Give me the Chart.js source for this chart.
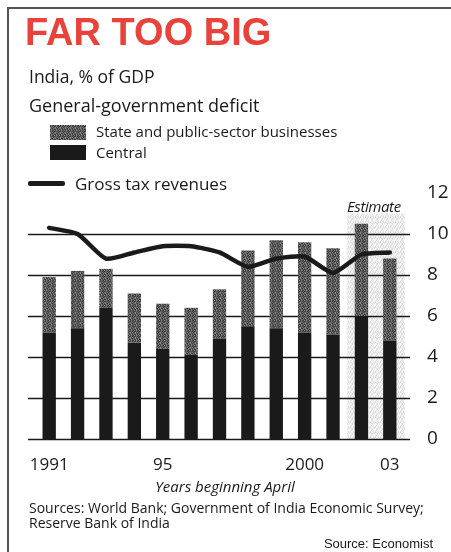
<!DOCTYPE html>
<html>
<head>
<meta charset="utf-8">
<script src="https://cdn.jsdelivr.net/npm/chart.js@4"></script>
<style>
  body { margin: 0; background: #fff; }
  #wrap { position: relative; width: 451px; height: 552px; overflow: hidden; font-family: "Open Sans", Lato, sans-serif; color: #1a1a1a; }
  #frame { position: absolute; left: 7px; top: 7px; width: 460px; height: 560px; border-left: 2px solid #555; border-top: 2px solid #555; }
  .t { position: absolute; white-space: nowrap; }
  #title { left: 25px; top: 11px; font: bold 38px "Liberation Sans", Arial, sans-serif; color: #e8423a; }
  .sw { position: absolute; }
  canvas { position: absolute; left: 0; top: 0; }
</style>
</head>
<body>
<div id="wrap">
  <div id="frame"></div>
  <canvas id="chart" width="451" height="552"></canvas>
  <div class="t" id="title">FAR TOO BIG</div>
  <div class="t" style="left:29px;top:64px;font-size:17.5px;">India, % of GDP</div>
  <div class="t" style="left:29px;top:93px;font-size:18px;">General-government deficit</div>
  <div class="sw" id="swState" style="left:50px;top:125px;width:36px;height:15px;"></div>
  <div class="t" style="left:96px;top:121px;font-size:15px;">State and public-sector businesses</div>
  <div class="sw" style="left:50px;top:145px;width:36px;height:15px;background:#1a1a1a;"></div>
  <div class="t" style="left:96px;top:142px;font-size:15px;">Central</div>
  <div class="sw" style="left:28px;top:181px;width:37px;height:5px;background:#1a1a1a;border-radius:2px;"></div>
  <div class="t" style="left:75px;top:172px;font-size:17px;">Gross tax revenues</div>
  <div class="t" style="left:347px;top:196px;font-size:15px;font-style:italic;letter-spacing:-0.4px;">Estimate</div>
  <div class="t" style="left:0;width:450px;text-align:center;top:476px;font-size:15px;font-style:italic;">Years beginning April</div>
  <div class="t" style="left:29px;top:498px;font-size:14px;">Sources: World Bank; Government of India Economic Survey;</div>
  <div class="t" style="left:29px;top:513px;font-size:14px;">Reserve Bank of India</div>
  <div class="t" style="right:18px;top:536px;font:13px 'Liberation Sans', Arial, sans-serif;">Source: Economist</div>
</div>
<script>
// fiscal years beginning April
var years = [1991, 1992, 1993, 1994, 1995, 1996, 1997, 1998, 1999, 2000, 2001, 2002, 2003];
var tickLabels = {1991: '1991', 1995: '95', 2000: '2000', 2003: '03'};
var central = [5.2, 5.4, 6.4, 4.7, 4.4, 4.1, 4.9, 5.5, 5.4, 5.2, 5.1, 6.0, 4.8];
var stateBiz = [2.7, 2.8, 1.9, 2.4, 2.2, 2.3, 2.4, 3.7, 4.3, 4.4, 4.2, 4.5, 4.0];
var taxRevenues = [10.3, 10.0, 8.8, 9.1, 9.4, 9.4, 9.1, 8.4, 8.8, 8.9, 8.1, 9.0, 9.1];
var yTicks = [0, 2, 4, 6, 8, 10, 12];
var estimateFrom = 2002;

function makePattern(vals, size) {
  var c = document.createElement('canvas');
  c.width = size; c.height = size;
  var g = c.getContext('2d');
  var img = g.createImageData(size, size);
  for (var i = 0; i < size * size; i++) {
    var v = vals[i % vals.length];
    img.data[i*4] = v; img.data[i*4+1] = v; img.data[i*4+2] = v; img.data[i*4+3] = 255;
  }
  g.putImageData(img, 0, 0);
  return g.createPattern(c, 'repeat');
}
var darkStipple = makePattern([60, 125, 85, 55, 145, 75, 105, 65, 90, 60, 135, 80, 115, 65, 95, 140, 75, 55, 120, 85, 65, 130, 80, 105, 60], 5);
var lightStipple = makePattern([240, 220, 250, 232, 255, 215, 245, 235, 225, 252, 212, 240, 248, 222, 236, 255, 230, 216, 244, 226, 252, 234, 220, 248, 238], 5);

var sw = document.createElement('canvas');
sw.width = 36; sw.height = 15;
var sg = sw.getContext('2d');
sg.fillStyle = darkStipple; sg.fillRect(0, 0, 36, 15);
document.getElementById('swState').style.background = 'url(' + sw.toDataURL() + ')';

var backdrop = {
  id: 'backdrop',
  beforeDatasetsDraw: function(chart) {
    var ctx = chart.ctx, x = chart.scales.x, y = chart.scales.y, a = chart.chartArea;
    var i = years.indexOf(estimateFrom);
    var left = (x.getPixelForValue(i - 1) + x.getPixelForValue(i)) / 2;
    ctx.save();
    ctx.fillStyle = lightStipple;
    ctx.fillRect(left, y.getPixelForValue(11), a.right + 1 - left, y.getPixelForValue(0) - y.getPixelForValue(11));
    ctx.strokeStyle = '#1a1a1a';
    ctx.lineWidth = 1.6;
    yTicks.forEach(function(t) {
      if (t === 12) return;
      var py = Math.round(y.getPixelForValue(t)) + 0.5;
      ctx.beginPath();
      ctx.moveTo(28, py);
      ctx.lineTo(a.right + 6, py);
      ctx.stroke();
    });
    ctx.restore();
  }
};

new Chart(document.getElementById('chart'), {
  type: 'bar',
  data: {
    labels: years,
    datasets: [
      { type: 'line', label: 'Gross tax revenues', data: taxRevenues, stack: 'tax', borderColor: '#1a1a1a', borderWidth: 4.5, pointRadius: 0, tension: 0.2, borderCapStyle: 'round', order: 0 },
      { label: 'Central', data: central, stack: 'deficit', backgroundColor: '#1a1a1a', order: 1 },
      { label: 'State and public-sector businesses', data: stateBiz, stack: 'deficit', backgroundColor: darkStipple, order: 1 }
    ]
  },
  options: {
    responsive: false,
    animation: false,
    layout: { padding: { left: 35, top: 193, right: 0, bottom: 0 } },
    plugins: { legend: { display: false }, tooltip: { enabled: false } },
    datasets: { bar: { categoryPercentage: 1, barPercentage: 0.47 } },
    scales: {
      x: {
        stacked: true,
        grid: { display: false },
        border: { display: false },
        afterFit: function(s) { s.height = 113; },
        ticks: {
          autoSkip: false, maxRotation: 0, padding: 8, color: '#1a1a1a',
          font: { family: 'Open Sans', size: 17 },
          callback: function(v) { return tickLabels[years[v]] || ''; }
        }
      },
      y: {
        stacked: true,
        position: 'right',
        min: 0, max: 12,
        grid: { display: false },
        border: { display: false },
        afterFit: function(s) { s.width = 47; },
        afterBuildTicks: function(s) { s.ticks = yTicks.map(function(v) { return { value: v }; }); },
        ticks: { padding: 15, color: '#1a1a1a', font: { family: 'Open Sans', size: 19 } }
      }
    }
  },
  plugins: [backdrop]
});
</script>
</body>
</html>
